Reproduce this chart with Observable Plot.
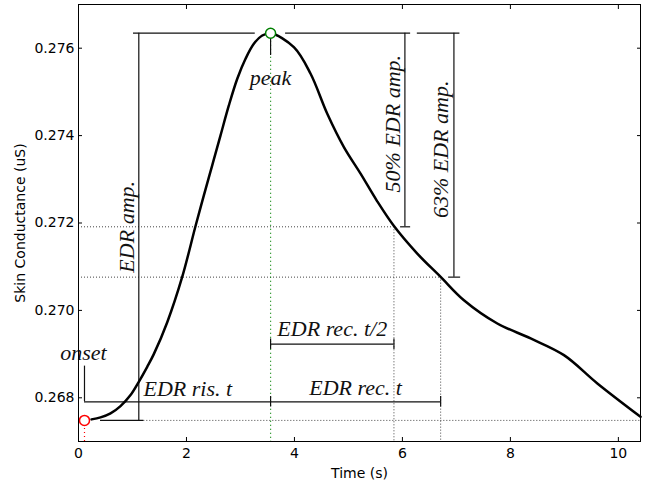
<!DOCTYPE html>
<html>
<head>
<meta charset="utf-8">
<script src="https://cdn.jsdelivr.net/npm/d3@7"></script>
<script src="https://cdn.jsdelivr.net/npm/@observablehq/plot@0.6"></script>
<style>
  html, body { margin: 0; padding: 0; background: white; }
</style>
</head>
<body>
<div id="chart"></div>
<script>
// Skin conductance response curve (time in s, conductance in uS)
const curveT = [0.241, 0.408, 0.593, 0.778, 0.964, 1.117, 1.273, 1.395, 1.644, 1.921, 2.168, 2.322, 2.477, 2.631, 2.785, 2.941, 3.094, 3.248, 3.404, 3.558, 3.989, 4.299, 4.608, 4.916, 5.225, 5.522, 5.843, 6.275, 6.708, 7.139, 7.758, 8.375, 8.992, 9.611, 10.41];
const curveV = [0.267506, 0.267552, 0.267643, 0.267810, 0.268062, 0.268366, 0.268709, 0.268999, 0.269730, 0.270766, 0.271931, 0.272633, 0.273319, 0.274005, 0.274690, 0.275301, 0.275758, 0.276101, 0.276290, 0.276343, 0.276023, 0.275415, 0.2745, 0.273737, 0.273129, 0.272519, 0.271931, 0.271301, 0.270766, 0.270233, 0.269701, 0.269358, 0.268976, 0.268329, 0.267566];

// Key points
const onset = {t: 0.111, v: 0.267483};
const peak = {t: 3.558, v: 0.276343};
const recHalfT = 5.843;   // 50% recovery time
const rec63T = 6.708;     // 63% recovery time

// Ticks
const xTicks = [0, 2, 4, 6, 8, 10];
const yTicks = [0.268, 0.270, 0.272, 0.274, 0.276];

// Annotation layout (data units)
const ampBars = [
  {x: 1.117, frac: 1.00, top: [1.019, 3.274], bottom: [0.408, 1.21]},
  {x: 6.046, frac: 0.50, top: [3.836, 6.152], bottom: [5.966, 6.152]},
  {x: 6.954, frac: 0.63, top: [6.276, 7.065], bottom: [6.856, 7.078]}
];
const timeBarLevel = 0.267909;
const halfBarLevel = 0.269227;
const capHalf = 0.00012;
const onsetTickTop = 0.268725;
const peakTick = [0.276245, 0.275833];
const onsetLevelStart = 1.21;

const centeredLabels = [
  {label: "onset", t: 0.09, v: 0.268862},
  {label: "peak", t: 3.558, v: 0.275147},
  {label: "EDR rec. t", t: 5.133, v: 0.268062},
  {label: "EDR rec. t/2", t: 4.70, v: 0.269410}
];
const startLabels = [
  {label: "EDR ris. t", t: 1.204, v: 0.268046}
];
const vLabels = [
  {label: "EDR amp.", t: 1.019, v: 0.271913},
  {label: "50% EDR amp.", t: 5.948, v: 0.274272},
  {label: "63% EDR amp.", t: 6.837, v: 0.273685}
];

const amp = peak.v - onset.v;
const lvl50 = peak.v - 0.5 * amp;
const lvl63 = peak.v - 0.63 * amp;
const yMin = 0.267, yMax = 0.277, xMax = 10.41;

const curve = curveT.map((t, i) => ({t, v: curveV[i]}));

const dot = {stroke: "#444", strokeWidth: 1, strokeDasharray: "1,2"};
const solid = {stroke: "#111", strokeWidth: 1.2};
const serif = {fontFamily: "Liberation Serif", fontStyle: "italic", fontSize: 22, fill: "#111", lineAnchor: "bottom"};
const blank = () => "";

const chart = Plot.plot({
  width: 654,
  height: 483,
  marginLeft: 78,
  marginRight: 14,
  marginTop: 4,
  marginBottom: 42,
  style: {background: "white", fontFamily: "DejaVu Sans", fontSize: "14px", color: "black"},
  x: {domain: [0, xMax]},
  y: {domain: [yMin, yMax]},
  marks: [
    // dotted guides
    Plot.ruleY([lvl50], {x1: 0, x2: recHalfT, ...dot}),
    Plot.ruleY([lvl63], {x1: 0, x2: rec63T, ...dot}),
    Plot.ruleX([recHalfT], {y1: lvl50, y2: yMin, ...dot}),
    Plot.ruleX([rec63T], {y1: lvl63, y2: yMin, ...dot}),
    Plot.ruleY([onset.v], {x1: onsetLevelStart, x2: xMax, ...dot}),
    Plot.ruleX([peak.t], {y1: peak.v, y2: yMin, stroke: "#008000", strokeWidth: 1.2, strokeDasharray: "1,3"}),
    Plot.ruleX([onset.t], {y1: onset.v, y2: yMin, stroke: "#ff0000", strokeWidth: 1.2, strokeDasharray: "1,3"}),
    // amplitude brackets
    Plot.ruleX(ampBars, {x: "x", y1: d => peak.v - d.frac * amp, y2: peak.v, ...solid}),
    Plot.ruleY(ampBars, {y: peak.v, x1: d => d.top[0], x2: d => d.top[1], ...solid}),
    Plot.ruleY(ampBars, {y: d => peak.v - d.frac * amp, x1: d => d.bottom[0], x2: d => d.bottom[1], ...solid}),
    // time bars
    Plot.ruleY([timeBarLevel], {x1: onset.t, x2: rec63T, ...solid}),
    Plot.ruleX([peak.t, rec63T], {y1: timeBarLevel - capHalf, y2: timeBarLevel + capHalf, ...solid}),
    Plot.ruleY([halfBarLevel], {x1: peak.t, x2: recHalfT, ...solid}),
    Plot.ruleX([peak.t, recHalfT], {y1: halfBarLevel - capHalf, y2: halfBarLevel + capHalf, ...solid}),
    Plot.ruleX([onset.t], {y1: timeBarLevel, y2: onsetTickTop, ...solid}),
    Plot.ruleX([peak.t], {y1: peakTick[0], y2: peakTick[1], ...solid}),
    // curve
    Plot.line(curve, {x: "t", y: "v", stroke: "black", strokeWidth: 2.5, curve: "catmull-rom"}),
    Plot.dot([onset], {x: "t", y: "v", r: 5, stroke: "#ff0000", fill: "white", strokeWidth: 1.5}),
    Plot.dot([peak], {x: "t", y: "v", r: 5, stroke: "#008000", fill: "white", strokeWidth: 1.5}),
    // labels
    Plot.text(centeredLabels, {x: "t", y: "v", text: "label", textAnchor: "middle", ...serif}),
    Plot.text(startLabels, {x: "t", y: "v", text: "label", textAnchor: "start", ...serif}),
    Plot.text(vLabels, {x: "t", y: "v", text: "label", rotate: -90, textAnchor: "middle", ...serif}),
    // axes
    Plot.axisX({anchor: "bottom", ticks: xTicks, tickSize: 0, tickPadding: 7, label: "Time (s)", labelAnchor: "center", labelArrow: "none", labelOffset: 36}),
    Plot.axisX({anchor: "bottom", ticks: xTicks, tickSize: -4, tickFormat: blank, label: null}),
    Plot.axisX({anchor: "top", ticks: xTicks, tickSize: -4, tickFormat: blank, label: null}),
    Plot.axisY({anchor: "left", ticks: yTicks, tickSize: 0, tickPadding: 4, tickFormat: d3.format(".3f"), label: "Skin Conductance (uS)", labelAnchor: "center", labelArrow: "none", labelOffset: 63}),
    Plot.axisY({anchor: "left", ticks: yTicks, tickSize: -4, tickFormat: blank, label: null}),
    Plot.axisY({anchor: "right", ticks: yTicks, tickSize: -4, tickFormat: blank, label: null}),
    Plot.frame({stroke: "black", strokeWidth: 1})
  ]
});
document.getElementById("chart").appendChild(chart);
</script>
</body>
</html>
